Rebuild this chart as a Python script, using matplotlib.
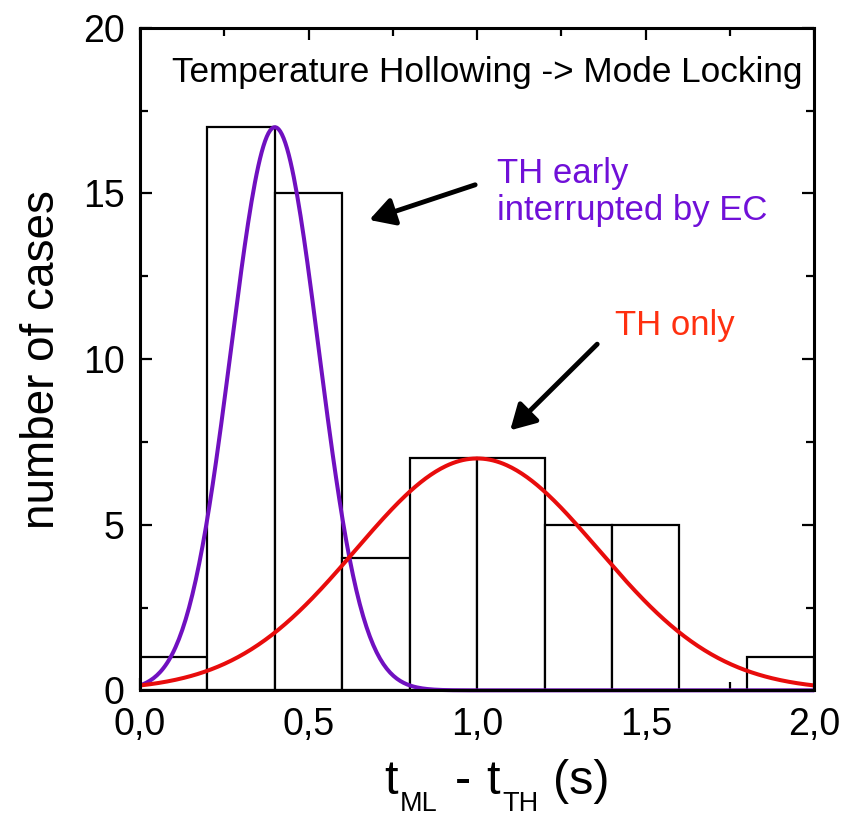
import numpy as np
import matplotlib
matplotlib.use("Agg")
import matplotlib.pyplot as plt
from matplotlib.ticker import MultipleLocator, FuncFormatter

plt.rcParams['font.family'] = ['Liberation Sans', 'DejaVu Sans']

# Histogram of delay between temperature hollowing and mode locking
bin_edges = [0.0, 0.2, 0.4, 0.6, 0.8, 1.0, 1.2, 1.4, 1.6, 1.8, 2.0]
counts = [1, 17, 15, 4, 7, 7, 5, 5, 0, 1]

# Gaussian fits: (amplitude, centre, width)
fit_early = (17.0, 0.40, 0.13)
fit_only = (7.0, 1.00, 0.36)

purple = '#7010c0'
red = '#e80c0c'

W, H = 859, 817
fig = plt.figure(figsize=(W / 100, H / 100), dpi=100)
ax = fig.add_axes([0.163, 0.155, 0.785, 0.811])

widths = np.diff(bin_edges)
ax.bar(bin_edges[:-1], counts, width=widths, align='edge',
       facecolor='white', edgecolor='black', linewidth=1.6, zorder=2)

xs = np.linspace(0, 2, 400)
def gauss(x, a, c, s):
    return a * np.exp(-(x - c) ** 2 / (2 * s ** 2))

ax.plot(xs, gauss(xs, *fit_early), color=purple, lw=2.9, zorder=3,
        clip_on=False, solid_capstyle='butt')
ax.plot(xs, gauss(xs, *fit_only), color=red, lw=2.9, zorder=3,
        clip_on=False, solid_capstyle='butt')

ax.set_xlim(0, 2.0)
ax.set_ylim(0, 20)

ax.xaxis.set_major_locator(MultipleLocator(0.5))
ax.xaxis.set_minor_locator(MultipleLocator(0.25))
ax.yaxis.set_major_locator(MultipleLocator(5))
ax.yaxis.set_minor_locator(MultipleLocator(2.5))
ax.xaxis.set_major_formatter(FuncFormatter(lambda v, p: f"{v:.1f}".replace('.', ',')))
ax.yaxis.set_major_formatter(FuncFormatter(lambda v, p: f"{int(round(v))}"))

ax.tick_params(which='both', direction='in', top=True, right=True,
               width=1.6, labelsize=27, colors='black')
ax.tick_params(which='major', length=8.5)
ax.tick_params(axis='x', which='major', pad=12)
ax.tick_params(axis='y', which='major', pad=11)
ax.tick_params(which='minor', length=5.5)
for sp in ax.spines.values():
    sp.set_linewidth(2.2)
    sp.set_zorder(4)

ax.set_ylabel('number of cases', fontsize=33, labelpad=14)

# x-axis label assembled from pieces so the subscripts sit low
def ftxt(px, py, s, size):
    fig.text(px / W, 1 - py / H, s, fontsize=size, ha='left', va='baseline')

ftxt(384, 794, 't', 35)
ftxt(400, 811, 'ML', 19.5)
ftxt(455, 794, '-', 35)
ftxt(486, 794, 't', 35)
ftxt(502, 811, 'TH', 19.5)
ftxt(553, 794, '(s)', 35)

ax.text(0.095, 18.37, 'Temperature Hollowing -> Mode Locking', fontsize=25.3,
        ha='left', va='baseline', zorder=5)
ax.text(1.059, 15.32, 'TH early', fontsize=25, color='#7010d8',
        ha='left', va='baseline', zorder=5)
ax.text(1.059, 14.2, 'interrupted by EC', fontsize=25, color='#7010d8',
        ha='left', va='baseline', zorder=5)
ax.text(1.41, 10.73, 'TH only', fontsize=25, color='#ff3010',
        ha='left', va='baseline', zorder=5)

arrow_kw = dict(arrowstyle='-|>,head_length=1.5,head_width=0.85', color='black',
                lw=3.5, shrinkA=0, shrinkB=0)
ax.annotate('', xy=(0.68, 14.2), xytext=(0.994, 15.26), arrowprops=arrow_kw, zorder=5)
ax.annotate('', xy=(1.098, 7.85), xytext=(1.356, 10.45), arrowprops=arrow_kw, zorder=5)

fig.savefig('out.png', dpi=100)
